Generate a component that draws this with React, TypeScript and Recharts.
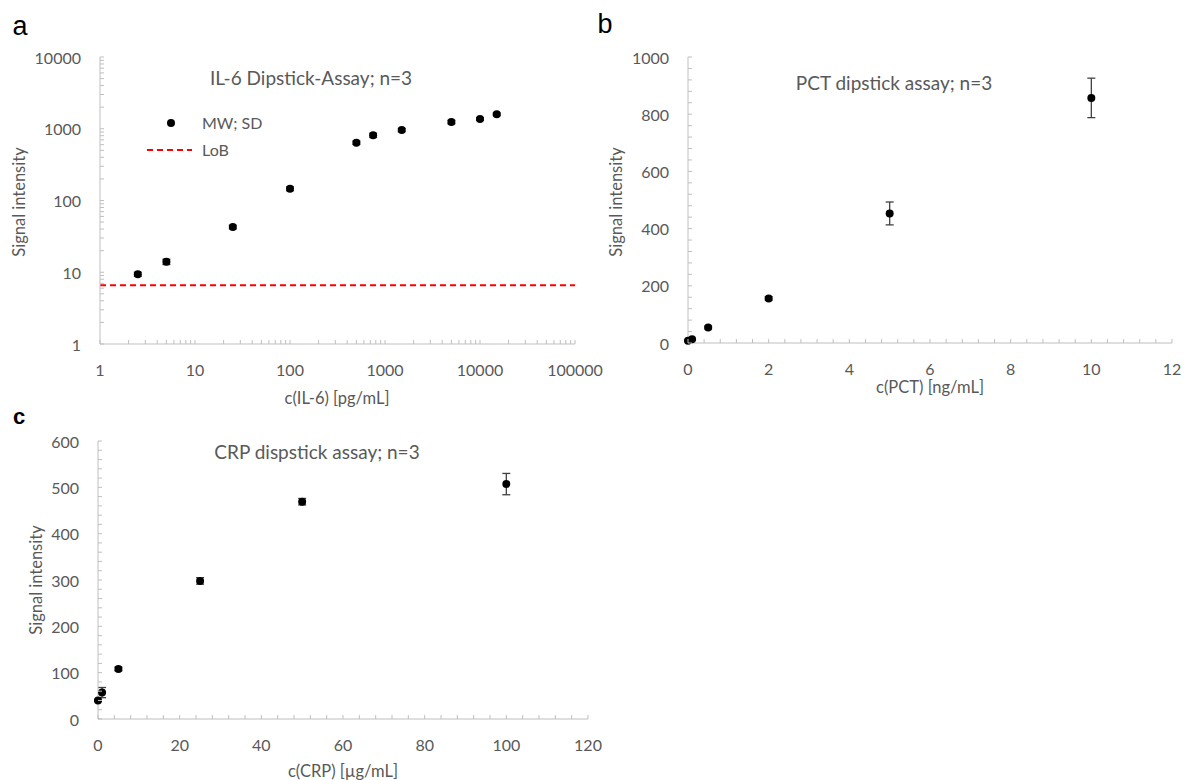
import React from 'react';
import { ScatterChart, Scatter, XAxis, YAxis, ErrorBar, ReferenceLine } from 'recharts';

const AXIS = '#bfbfbf';
const TXT = '#595959';
const FONT = 'Lato, "Open Sans", sans-serif';

// a: IL-6 dipstick (log/log)
const il6Conc = [2.5, 5, 25, 100, 500, 750, 1500, 5000, 10000, 15000];
const il6Signal = [9.4, 14, 42.7, 146, 640, 811, 961, 1242, 1367, 1588];
const il6Sd = [0.6, 1.2, 2.5, 9, 35, 55, 50, 70, 60, 70];
const il6Lob = 6.6;
const il6XLabels = [1, 10, 100, 1000, 10000, 100000];
const il6YLabels = [1, 10, 100, 1000, 10000];

// b: PCT dipstick
const pctConc = [0, 0.1, 0.5, 2, 5, 10];
const pctSignal = [8, 13, 54, 156, 453, 857];
const pctSd = [2, 3, 5, 6, 40, 69];
const pctXLabels = [0, 2, 4, 6, 8, 10, 12];
const pctYLabels = [0, 200, 400, 600, 800, 1000];

// c: CRP dipstick
const crpConc = [0, 1, 5, 25, 50, 100];
const crpSignal = [40, 57, 108, 298, 469, 507];
const crpSd = [2, 11, 4, 7, 7, 23];
const crpXLabels = [0, 20, 40, 60, 80, 100, 120];
const crpYLabels = [0, 100, 200, 300, 400, 500, 600];

const toRows = (xs: number[], ys: number[], sds: number[]) =>
  xs.map((x, i) => ({ x, y: ys[i], sd: sds[i] }));

// major ticks plus excel-like minor ticks (2..9 per decade)
function logTicks(labels: number[]) {
  const out: number[] = [];
  labels.forEach((d, i) => {
    if (i === labels.length - 1) out.push(d);
    else for (let k = 1; k < 10; k++) out.push(d * k);
  });
  return out;
}

function linTicks(labels: number[], sub: number) {
  const out: number[] = [];
  const step = (labels[1] - labels[0]) / sub;
  for (let i = 0; i < labels.length - 1; i++) {
    for (let j = 0; j < sub; j++) out.push(Number((labels[i] + j * step).toFixed(6)));
  }
  out.push(labels[labels.length - 1]);
  return out;
}

const isLabel = (labels: number[], v: number) => labels.some((l) => Math.abs(l - v) < 1e-6);

function XTick(props: any) {
  const { x, y, payload, labels } = props;
  const v = payload.value;
  return (
    <g>
      <line x1={x} y1={y} x2={x} y2={y - 4} stroke={AXIS} strokeWidth={1} />
      {isLabel(labels, v) && (
        <text x={x} y={y + 25} textAnchor="middle" dominantBaseline="central" fill={TXT} fontSize={16} fontFamily={FONT}>
          {v}
        </text>
      )}
    </g>
  );
}

function YTick(props: any) {
  const { x, y, payload, labels } = props;
  const v = payload.value;
  return (
    <g>
      <line x1={x} y1={y} x2={x + 4} y2={y} stroke={AXIS} strokeWidth={1} />
      {isLabel(labels, v) && (
        <text x={x - 19} y={y} textAnchor="end" dominantBaseline="central" fill={TXT} fontSize={16} fontFamily={FONT}>
          {v}
        </text>
      )}
    </g>
  );
}

const dot = (p: any) => <circle cx={p.cx} cy={p.cy} r={4} fill="#000" />;

function Txt({ x, y, size = 16.5, rotate = 0, color = TXT, family = FONT, weight = 400, left = false, children }: any) {
  return (
    <div
      style={{
        position: 'absolute',
        left: x,
        top: y,
        transform: `translate(${left ? '0' : '-50%'}, -50%) rotate(${rotate}deg)`,
        fontSize: size,
        fontFamily: family,
        fontWeight: weight,
        color,
        whiteSpace: 'nowrap',
        lineHeight: 1,
      }}
    >
      {children}
    </div>
  );
}

function Panel({ left, top, width, height, margin, xDomain, yDomain, xTicks, yTicks, xLabels, yLabels, log, rows, children }: any) {
  return (
    <div style={{ position: 'absolute', left, top }}>
      <ScatterChart width={width} height={height} margin={margin}>
        <XAxis
          type="number"
          dataKey="x"
          domain={xDomain}
          scale={log ? 'log' : 'linear'}
          ticks={xTicks}
          interval={0}
          height={30}
          tickSize={0}
          tickMargin={0}
          tickLine={false}
          axisLine={{ stroke: AXIS, strokeWidth: 1 }}
          tick={<XTick labels={xLabels} />}
        />
        <YAxis
          type="number"
          dataKey="y"
          domain={yDomain}
          scale={log ? 'log' : 'linear'}
          ticks={yTicks}
          interval={0}
          width={60}
          tickSize={0}
          tickMargin={0}
          tickLine={false}
          axisLine={{ stroke: AXIS, strokeWidth: 1 }}
          tick={<YTick labels={yLabels} />}
        />
        {children}
        <Scatter data={rows} shape={dot} isAnimationActive={false}>
          <ErrorBar dataKey="sd" direction="y" width={4} stroke="#404040" strokeWidth={1.3} isAnimationActive={false} />
        </Scatter>
      </ScatterChart>
    </div>
  );
}

export default function App() {
  return (
    <div style={{ position: 'absolute', left: 0, top: 0, width: 1184, height: 780, background: '#fff', overflow: 'hidden' }}>
      {/* a */}
      <Panel
        left={0}
        top={0}
        width={625}
        height={380}
        margin={{ top: 57, right: 50, bottom: 6, left: 40 }}
        xDomain={[1, 100000]}
        yDomain={[1, 10000]}
        xTicks={logTicks(il6XLabels)}
        yTicks={logTicks(il6YLabels)}
        xLabels={il6XLabels}
        yLabels={il6YLabels}
        log
        rows={toRows(il6Conc, il6Signal, il6Sd)}
      >
        <ReferenceLine y={il6Lob} stroke="#ff0000" strokeWidth={2} strokeDasharray="6 4" />
      </Panel>
      <Txt x={20} y={26} size={27} color="#000" family='"Liberation Sans", Arial, sans-serif'>a</Txt>
      <Txt x={311} y={77} size={19}>IL-6 Dipstick-Assay; n=3</Txt>
      <Txt x={19} y={202} rotate={-90}>Signal intensity</Txt>
      <Txt x={337} y={398}>c(IL-6) [pg/mL]</Txt>
      <svg style={{ position: 'absolute', left: 140, top: 112 }} width={60} height={50}>
        <circle cx={31} cy={11} r={4} fill="#000" />
        <line x1={7} y1={38} x2={52} y2={38} stroke="#ff0000" strokeWidth={2} strokeDasharray="6 4" />
      </svg>
      <Txt x={202} y={123} size={16} left>MW; SD</Txt>
      <Txt x={202} y={150} size={16} left>LoB</Txt>

      {/* b */}
      <Panel
        left={590}
        top={0}
        width={594}
        height={380}
        margin={{ top: 57, right: 12, bottom: 7, left: 38 }}
        xDomain={[0, 12]}
        yDomain={[0, 1000]}
        xTicks={linTicks(pctXLabels, 5)}
        yTicks={linTicks(pctYLabels, 5)}
        xLabels={pctXLabels}
        yLabels={pctYLabels}
        rows={toRows(pctConc, pctSignal, pctSd)}
      />
      <Txt x={605} y={24} size={27} color="#000" family='"Liberation Sans", Arial, sans-serif'>b</Txt>
      <Txt x={894} y={82} size={19}>PCT dipstick assay; n=3</Txt>
      <Txt x={616} y={202} rotate={-90}>Signal intensity</Txt>
      <Txt x={930} y={387}>c(PCT) [ng/mL]</Txt>

      {/* c */}
      <Panel
        left={0}
        top={380}
        width={630}
        height={400}
        margin={{ top: 61, right: 42, bottom: 31, left: 38 }}
        xDomain={[0, 120]}
        yDomain={[0, 600]}
        xTicks={linTicks(crpXLabels, 5)}
        yTicks={linTicks(crpYLabels, 5)}
        xLabels={crpXLabels}
        yLabels={crpYLabels}
        rows={toRows(crpConc, crpSignal, crpSd)}
      />
      <Txt x={19} y={417} size={22} weight={700} color="#000" family='"Liberation Sans", Arial, sans-serif'>c</Txt>
      <Txt x={317} y={451} size={19}>CRP dispstick assay; n=3</Txt>
      <Txt x={36} y={580} rotate={-90}>Signal intensity</Txt>
      <Txt x={343} y={771}>c(CRP) [µg/mL]</Txt>
    </div>
  );
}
